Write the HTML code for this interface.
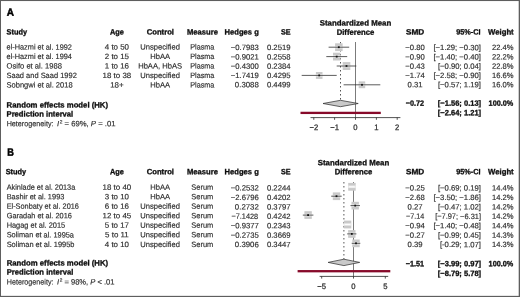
<!DOCTYPE html>
<html><head><meta charset="utf-8"><title>Forest plot</title>
<style>
html,body{margin:0;padding:0;background:#fff;}
body{width:520px;height:297px;overflow:hidden;position:relative;}
svg{position:absolute;left:0;top:0;display:block;}
text{font-family:"Liberation Sans",Arial,Helvetica,sans-serif;font-size:7.7px;text-rendering:geometricPrecision;stroke-width:0.16px;}
text[font-weight=bold]{stroke-width:0.3px;}
</style></head><body>
<svg width="520" height="297" viewBox="0 0 520 297">
<rect x="0" y="0" width="520" height="297" fill="#fff"/>
<g fill="#5e5e5e"><rect x="0" y="0" width="520" height="1.05"/><rect x="0" y="0" width="1" height="297"/><rect x="518.7" y="0" width="1.3" height="297"/><rect x="0" y="295.85" width="520" height="1.15"/></g>
<text x="6.85" y="15.70" transform="rotate(0.05 6.85 15.70)" font-weight="bold" textLength="7.2" lengthAdjust="spacingAndGlyphs" style="font-size:10.7px;stroke-width:0.5px" fill="#000" stroke="#000">A</text>
<text x="6.50" y="34.60" transform="rotate(0.05 6.50 34.60)" font-weight="bold" textLength="20.55" lengthAdjust="spacingAndGlyphs" fill="#0c0c0c" stroke="#0c0c0c">Study</text>
<text x="110.00" y="34.60" transform="rotate(0.05 110.00 34.60)" font-weight="bold" textLength="13.9" lengthAdjust="spacingAndGlyphs" fill="#0c0c0c" stroke="#0c0c0c">Age</text>
<text x="146.70" y="34.60" transform="rotate(0.05 146.70 34.60)" font-weight="bold" textLength="27.3" lengthAdjust="spacingAndGlyphs" fill="#0c0c0c" stroke="#0c0c0c">Control</text>
<text x="187.00" y="34.60" transform="rotate(0.05 187.00 34.60)" font-weight="bold" textLength="31.0" lengthAdjust="spacingAndGlyphs" fill="#0c0c0c" stroke="#0c0c0c">Measure</text>
<text x="224.60" y="34.60" transform="rotate(0.05 224.60 34.60)" font-weight="bold" textLength="34.2" lengthAdjust="spacingAndGlyphs" fill="#0c0c0c" stroke="#0c0c0c">Hedges g</text>
<text x="280.90" y="34.60" transform="rotate(0.05 280.90 34.60)" font-weight="bold" textLength="9.6" lengthAdjust="spacingAndGlyphs" fill="#0c0c0c" stroke="#0c0c0c">SE</text>
<text x="319.71" y="25.40" transform="rotate(0.05 319.71 25.40)" font-weight="bold" textLength="71.57" lengthAdjust="spacingAndGlyphs" fill="#0c0c0c" stroke="#0c0c0c">Standardized Mean</text>
<text x="336.67" y="34.85" transform="rotate(0.05 336.67 34.85)" font-weight="bold" textLength="37.66" lengthAdjust="spacingAndGlyphs" fill="#0c0c0c" stroke="#0c0c0c">Difference</text>
<text x="405.90" y="34.60" transform="rotate(0.05 405.90 34.60)" font-weight="bold" textLength="18.3" lengthAdjust="spacingAndGlyphs" fill="#0c0c0c" stroke="#0c0c0c">SMD</text>
<text x="456.20" y="34.60" transform="rotate(0.05 456.20 34.60)" font-weight="bold" textLength="24.3" lengthAdjust="spacingAndGlyphs" fill="#0c0c0c" stroke="#0c0c0c">95%-CI</text>
<text x="488.00" y="34.60" transform="rotate(0.05 488.00 34.60)" font-weight="bold" textLength="25.7" lengthAdjust="spacingAndGlyphs" fill="#0c0c0c" stroke="#0c0c0c">Weight</text>
<line x1="355.5" y1="42" x2="355.5" y2="117.6" stroke="#333" stroke-width="0.65"/>
<line x1="340.5" y1="42" x2="340.5" y2="101.5" stroke="#1c1c1c" stroke-width="0.75" stroke-dasharray="1.5 2.5"/>
<text x="6.55" y="49.60" transform="rotate(0.05 6.55 49.60)" textLength="65.35" lengthAdjust="spacingAndGlyphs" fill="#2c2c2c" stroke="#2c2c2c">el-Hazmi et al. 1992</text>
<text x="104.77" y="49.60" transform="rotate(0.05 104.77 49.60)" textLength="24.25" lengthAdjust="spacingAndGlyphs" fill="#2c2c2c" stroke="#2c2c2c">4 to 50</text>
<text x="140.29" y="49.60" transform="rotate(0.05 140.29 49.60)" textLength="39.63" lengthAdjust="spacingAndGlyphs" fill="#2c2c2c" stroke="#2c2c2c">Unspecified</text>
<text x="190.23" y="49.60" transform="rotate(0.05 190.23 49.60)" textLength="24.14" lengthAdjust="spacingAndGlyphs" fill="#2c2c2c" stroke="#2c2c2c">Plasma</text>
<text x="230.75" y="50.10" transform="rotate(0.05 230.75 50.10)" textLength="28.05" lengthAdjust="spacingAndGlyphs" fill="#2c2c2c" stroke="#2c2c2c">−0.7983</text>
<text x="266.95" y="50.10" transform="rotate(0.05 266.95 50.10)" textLength="23.55" lengthAdjust="spacingAndGlyphs" fill="#2c2c2c" stroke="#2c2c2c">0.2519</text>
<text x="405.36" y="50.10" transform="rotate(0.05 405.36 50.10)" textLength="19.48" lengthAdjust="spacingAndGlyphs" fill="#2c2c2c" stroke="#2c2c2c">−0.80</text>
<text x="433.48" y="50.10" transform="rotate(0.05 433.48 50.10)" textLength="47.52" lengthAdjust="spacingAndGlyphs" fill="#2c2c2c" stroke="#2c2c2c">[−1.29; −0.30]</text>
<text x="492.00" y="50.10" transform="rotate(0.05 492.00 50.10)" textLength="21.51" lengthAdjust="spacingAndGlyphs" fill="#2c2c2c" stroke="#2c2c2c">22.4%</text>
<rect x="335.1" y="43.3" width="7.5" height="7.8" fill="#c9c9c9"/>
<rect x="335.1" y="45.9" width="7.5" height="2.6" fill="#fff" opacity="0.6"/>
<line x1="328.6" y1="47.2" x2="349.2" y2="47.2" stroke="#262626" stroke-width="0.75"/>
<rect x="337.9" y="46.3" width="1.8" height="1.8" fill="#111"/>
<text x="6.55" y="59.05" transform="rotate(0.05 6.55 59.05)" textLength="65.35" lengthAdjust="spacingAndGlyphs" fill="#2c2c2c" stroke="#2c2c2c">el-Hazmi et al. 1994</text>
<text x="104.77" y="59.05" transform="rotate(0.05 104.77 59.05)" textLength="24.25" lengthAdjust="spacingAndGlyphs" fill="#2c2c2c" stroke="#2c2c2c">2 to 15</text>
<text x="150.19" y="59.05" transform="rotate(0.05 150.19 59.05)" textLength="19.81" lengthAdjust="spacingAndGlyphs" fill="#2c2c2c" stroke="#2c2c2c">HbAA</text>
<text x="190.23" y="59.05" transform="rotate(0.05 190.23 59.05)" textLength="24.14" lengthAdjust="spacingAndGlyphs" fill="#2c2c2c" stroke="#2c2c2c">Plasma</text>
<text x="230.75" y="59.40" transform="rotate(0.05 230.75 59.40)" textLength="28.05" lengthAdjust="spacingAndGlyphs" fill="#2c2c2c" stroke="#2c2c2c">−0.9021</text>
<text x="266.95" y="59.40" transform="rotate(0.05 266.95 59.40)" textLength="23.55" lengthAdjust="spacingAndGlyphs" fill="#2c2c2c" stroke="#2c2c2c">0.2558</text>
<text x="405.36" y="59.40" transform="rotate(0.05 405.36 59.40)" textLength="19.48" lengthAdjust="spacingAndGlyphs" fill="#2c2c2c" stroke="#2c2c2c">−0.90</text>
<text x="433.48" y="59.40" transform="rotate(0.05 433.48 59.40)" textLength="47.52" lengthAdjust="spacingAndGlyphs" fill="#2c2c2c" stroke="#2c2c2c">[−1.40; −0.40]</text>
<text x="492.00" y="59.40" transform="rotate(0.05 492.00 59.40)" textLength="21.51" lengthAdjust="spacingAndGlyphs" fill="#2c2c2c" stroke="#2c2c2c">22.2%</text>
<rect x="333.0" y="52.7" width="7.5" height="7.8" fill="#c9c9c9"/>
<rect x="333.0" y="55.3" width="7.5" height="2.6" fill="#fff" opacity="0.6"/>
<line x1="326.3" y1="56.6" x2="347.2" y2="56.6" stroke="#262626" stroke-width="0.75"/>
<rect x="335.8" y="55.7" width="1.8" height="1.8" fill="#111"/>
<text x="6.55" y="68.50" transform="rotate(0.05 6.55 68.50)" textLength="55.35" lengthAdjust="spacingAndGlyphs" fill="#2c2c2c" stroke="#2c2c2c">Osifo et al. 1988</text>
<text x="104.77" y="68.50" transform="rotate(0.05 104.77 68.50)" textLength="24.25" lengthAdjust="spacingAndGlyphs" fill="#2c2c2c" stroke="#2c2c2c">1 to 16</text>
<text x="138.18" y="68.50" transform="rotate(0.05 138.18 68.50)" textLength="43.84" lengthAdjust="spacingAndGlyphs" fill="#2c2c2c" stroke="#2c2c2c">HbAA, HbAS</text>
<text x="190.23" y="68.50" transform="rotate(0.05 190.23 68.50)" textLength="24.14" lengthAdjust="spacingAndGlyphs" fill="#2c2c2c" stroke="#2c2c2c">Plasma</text>
<text x="230.75" y="68.70" transform="rotate(0.05 230.75 68.70)" textLength="28.05" lengthAdjust="spacingAndGlyphs" fill="#2c2c2c" stroke="#2c2c2c">−0.4300</text>
<text x="266.95" y="68.70" transform="rotate(0.05 266.95 68.70)" textLength="23.55" lengthAdjust="spacingAndGlyphs" fill="#2c2c2c" stroke="#2c2c2c">0.2384</text>
<text x="405.36" y="68.70" transform="rotate(0.05 405.36 68.70)" textLength="19.48" lengthAdjust="spacingAndGlyphs" fill="#2c2c2c" stroke="#2c2c2c">−0.43</text>
<text x="437.97" y="68.70" transform="rotate(0.05 437.97 68.70)" textLength="43.03" lengthAdjust="spacingAndGlyphs" fill="#2c2c2c" stroke="#2c2c2c">[−0.90; 0.04]</text>
<text x="492.00" y="68.70" transform="rotate(0.05 492.00 68.70)" textLength="21.51" lengthAdjust="spacingAndGlyphs" fill="#2c2c2c" stroke="#2c2c2c">22.8%</text>
<rect x="342.7" y="62.1" width="7.6" height="7.9" fill="#c9c9c9"/>
<rect x="342.7" y="64.7" width="7.6" height="2.6" fill="#fff" opacity="0.6"/>
<line x1="336.7" y1="66.0" x2="356.3" y2="66.0" stroke="#262626" stroke-width="0.75"/>
<rect x="345.6" y="65.1" width="1.8" height="1.8" fill="#111"/>
<text x="6.55" y="77.95" transform="rotate(0.05 6.55 77.95)" textLength="70.25" lengthAdjust="spacingAndGlyphs" fill="#2c2c2c" stroke="#2c2c2c">Saad and Saad 1992</text>
<text x="102.57" y="77.95" transform="rotate(0.05 102.57 77.95)" textLength="28.66" lengthAdjust="spacingAndGlyphs" fill="#2c2c2c" stroke="#2c2c2c">18 to 38</text>
<text x="140.29" y="77.95" transform="rotate(0.05 140.29 77.95)" textLength="39.63" lengthAdjust="spacingAndGlyphs" fill="#2c2c2c" stroke="#2c2c2c">Unspecified</text>
<text x="190.23" y="77.95" transform="rotate(0.05 190.23 77.95)" textLength="24.14" lengthAdjust="spacingAndGlyphs" fill="#2c2c2c" stroke="#2c2c2c">Plasma</text>
<text x="230.75" y="78.00" transform="rotate(0.05 230.75 78.00)" textLength="28.05" lengthAdjust="spacingAndGlyphs" fill="#2c2c2c" stroke="#2c2c2c">−1.7419</text>
<text x="266.95" y="78.00" transform="rotate(0.05 266.95 78.00)" textLength="23.55" lengthAdjust="spacingAndGlyphs" fill="#2c2c2c" stroke="#2c2c2c">0.4295</text>
<text x="405.36" y="78.00" transform="rotate(0.05 405.36 78.00)" textLength="19.48" lengthAdjust="spacingAndGlyphs" fill="#2c2c2c" stroke="#2c2c2c">−1.74</text>
<text x="433.48" y="78.00" transform="rotate(0.05 433.48 78.00)" textLength="47.52" lengthAdjust="spacingAndGlyphs" fill="#2c2c2c" stroke="#2c2c2c">[−2.58; −0.90]</text>
<text x="492.00" y="78.00" transform="rotate(0.05 492.00 78.00)" textLength="21.51" lengthAdjust="spacingAndGlyphs" fill="#2c2c2c" stroke="#2c2c2c">16.6%</text>
<rect x="315.9" y="72.0" width="6.6" height="6.9" fill="#c9c9c9"/>
<rect x="315.9" y="74.1" width="6.6" height="2.6" fill="#fff" opacity="0.6"/>
<line x1="301.7" y1="75.4" x2="336.7" y2="75.4" stroke="#262626" stroke-width="0.75"/>
<rect x="318.3" y="74.5" width="1.8" height="1.8" fill="#111"/>
<text x="6.55" y="87.40" transform="rotate(0.05 6.55 87.40)" textLength="66.05" lengthAdjust="spacingAndGlyphs" fill="#2c2c2c" stroke="#2c2c2c">Sobngwi et al. 2018</text>
<text x="110.17" y="87.40" transform="rotate(0.05 110.17 87.40)" textLength="13.45" lengthAdjust="spacingAndGlyphs" fill="#2c2c2c" stroke="#2c2c2c">18+</text>
<text x="150.19" y="87.40" transform="rotate(0.05 150.19 87.40)" textLength="19.81" lengthAdjust="spacingAndGlyphs" fill="#2c2c2c" stroke="#2c2c2c">HbAA</text>
<text x="190.23" y="87.40" transform="rotate(0.05 190.23 87.40)" textLength="24.14" lengthAdjust="spacingAndGlyphs" fill="#2c2c2c" stroke="#2c2c2c">Plasma</text>
<text x="234.89" y="87.30" transform="rotate(0.05 234.89 87.30)" textLength="23.9" lengthAdjust="spacingAndGlyphs" fill="#2c2c2c" stroke="#2c2c2c">0.3088</text>
<text x="266.95" y="87.30" transform="rotate(0.05 266.95 87.30)" textLength="23.55" lengthAdjust="spacingAndGlyphs" fill="#2c2c2c" stroke="#2c2c2c">0.4499</text>
<text x="407.61" y="87.30" transform="rotate(0.05 407.61 87.30)" textLength="14.99" lengthAdjust="spacingAndGlyphs" fill="#2c2c2c" stroke="#2c2c2c">0.31</text>
<text x="437.97" y="87.30" transform="rotate(0.05 437.97 87.30)" textLength="43.03" lengthAdjust="spacingAndGlyphs" fill="#2c2c2c" stroke="#2c2c2c">[−0.57; 1.19]</text>
<text x="492.00" y="87.30" transform="rotate(0.05 492.00 87.30)" textLength="21.51" lengthAdjust="spacingAndGlyphs" fill="#2c2c2c" stroke="#2c2c2c">16.0%</text>
<rect x="358.7" y="81.4" width="6.5" height="6.8" fill="#c9c9c9"/>
<rect x="358.7" y="83.5" width="6.5" height="2.6" fill="#fff" opacity="0.6"/>
<line x1="343.6" y1="84.8" x2="380.3" y2="84.8" stroke="#262626" stroke-width="0.75"/>
<rect x="361.1" y="83.9" width="1.8" height="1.8" fill="#111"/>
<text x="6.55" y="107.40" transform="rotate(0.05 6.55 107.40)" font-weight="bold" textLength="101.5" lengthAdjust="spacingAndGlyphs" fill="#0c0c0c" stroke="#0c0c0c">Random effects model (HK)</text>
<text x="6.55" y="116.40" transform="rotate(0.05 6.55 116.40)" font-weight="bold" textLength="66.7" lengthAdjust="spacingAndGlyphs" fill="#0c0c0c" stroke="#0c0c0c">Prediction interval</text>
<text x="6.65" y="126.30" transform="rotate(0.05 6.65 126.30)" textLength="46.85" lengthAdjust="spacingAndGlyphs" fill="#2c2c2c" stroke="#2c2c2c">Heterogeneity:</text>
<text x="57.1" y="126.3" transform="rotate(0.05 57.1 126.3)" fill="#2c2c2c" stroke="#2c2c2c" textLength="58.4" lengthAdjust="spacingAndGlyphs"><tspan font-style="italic">I</tspan><tspan style="font-size:4.8px" dx="0.5" dy="-2.7">2</tspan><tspan dy="2.7"> = 69%, </tspan><tspan font-style="italic">P</tspan> = .01</text>
<text x="405.80" y="105.70" transform="rotate(0.05 405.80 105.70)" font-weight="bold" textLength="18.3" lengthAdjust="spacingAndGlyphs" fill="#0c0c0c" stroke="#0c0c0c">−0.72</text>
<text x="437.80" y="105.70" transform="rotate(0.05 437.80 105.70)" font-weight="bold" textLength="43.3" lengthAdjust="spacingAndGlyphs" fill="#0c0c0c" stroke="#0c0c0c">[−1.56; 0.13]</text>
<text x="488.60" y="105.70" transform="rotate(0.05 488.60 105.70)" font-weight="bold" textLength="24.7" lengthAdjust="spacingAndGlyphs" fill="#0c0c0c" stroke="#0c0c0c">100.0%</text>
<text x="437.80" y="115.20" transform="rotate(0.05 437.80 115.20)" font-weight="bold" textLength="43.3" lengthAdjust="spacingAndGlyphs" fill="#0c0c0c" stroke="#0c0c0c">[−2.64; 1.21]</text>
<polygon points="323.0,103.5 340.5,100.3 358.2,103.5 340.5,106.7" fill="#c9c9c9" stroke="#262626" stroke-width="0.7"/>
<rect x="300.5" y="111.75" width="80.3" height="2.3" fill="#870a2a"/>
<line x1="310.5" y1="117.6" x2="400.4" y2="117.6" stroke="#262626" stroke-width="0.8"/>
<line x1="313.8" y1="117.6" x2="313.8" y2="119.8" stroke="#262626" stroke-width="0.8"/>
<text x="309.43" y="130.10" transform="rotate(0.05 309.43 130.10)" textLength="8.74" lengthAdjust="spacingAndGlyphs" style="font-size:7.9px;stroke-width:0.25px" fill="#2c2c2c" stroke="#2c2c2c">−2</text>
<line x1="334.6" y1="117.6" x2="334.6" y2="119.8" stroke="#262626" stroke-width="0.8"/>
<text x="330.28" y="130.10" transform="rotate(0.05 330.28 130.10)" textLength="8.74" lengthAdjust="spacingAndGlyphs" style="font-size:7.9px;stroke-width:0.25px" fill="#2c2c2c" stroke="#2c2c2c">−1</text>
<line x1="355.5" y1="117.6" x2="355.5" y2="119.8" stroke="#262626" stroke-width="0.8"/>
<text x="353.37" y="130.10" transform="rotate(0.05 353.37 130.10)" textLength="4.26" lengthAdjust="spacingAndGlyphs" style="font-size:7.9px;stroke-width:0.25px" fill="#2c2c2c" stroke="#2c2c2c">0</text>
<line x1="376.4" y1="117.6" x2="376.4" y2="119.8" stroke="#262626" stroke-width="0.8"/>
<text x="374.22" y="130.10" transform="rotate(0.05 374.22 130.10)" textLength="4.26" lengthAdjust="spacingAndGlyphs" style="font-size:7.9px;stroke-width:0.25px" fill="#2c2c2c" stroke="#2c2c2c">1</text>
<line x1="397.2" y1="117.6" x2="397.2" y2="119.8" stroke="#262626" stroke-width="0.8"/>
<text x="395.07" y="130.10" transform="rotate(0.05 395.07 130.10)" textLength="4.26" lengthAdjust="spacingAndGlyphs" style="font-size:7.9px;stroke-width:0.25px" fill="#2c2c2c" stroke="#2c2c2c">2</text>
<text x="7.35" y="155.70" transform="rotate(0.05 7.35 155.70)" font-weight="bold" textLength="6.6" lengthAdjust="spacingAndGlyphs" style="font-size:10.7px;stroke-width:0.5px" fill="#000" stroke="#000">B</text>
<text x="5.70" y="174.30" transform="rotate(0.05 5.70 174.30)" font-weight="bold" textLength="20.55" lengthAdjust="spacingAndGlyphs" fill="#0c0c0c" stroke="#0c0c0c">Study</text>
<text x="110.00" y="174.30" transform="rotate(0.05 110.00 174.30)" font-weight="bold" textLength="13.9" lengthAdjust="spacingAndGlyphs" fill="#0c0c0c" stroke="#0c0c0c">Age</text>
<text x="146.70" y="174.30" transform="rotate(0.05 146.70 174.30)" font-weight="bold" textLength="27.3" lengthAdjust="spacingAndGlyphs" fill="#0c0c0c" stroke="#0c0c0c">Control</text>
<text x="187.00" y="174.30" transform="rotate(0.05 187.00 174.30)" font-weight="bold" textLength="31.0" lengthAdjust="spacingAndGlyphs" fill="#0c0c0c" stroke="#0c0c0c">Measure</text>
<text x="224.60" y="174.30" transform="rotate(0.05 224.60 174.30)" font-weight="bold" textLength="34.2" lengthAdjust="spacingAndGlyphs" fill="#0c0c0c" stroke="#0c0c0c">Hedges g</text>
<text x="280.90" y="174.30" transform="rotate(0.05 280.90 174.30)" font-weight="bold" textLength="9.6" lengthAdjust="spacingAndGlyphs" fill="#0c0c0c" stroke="#0c0c0c">SE</text>
<text x="317.71" y="165.30" transform="rotate(0.05 317.71 165.30)" font-weight="bold" textLength="71.57" lengthAdjust="spacingAndGlyphs" fill="#0c0c0c" stroke="#0c0c0c">Standardized Mean</text>
<text x="334.67" y="174.30" transform="rotate(0.05 334.67 174.30)" font-weight="bold" textLength="37.66" lengthAdjust="spacingAndGlyphs" fill="#0c0c0c" stroke="#0c0c0c">Difference</text>
<text x="405.90" y="174.30" transform="rotate(0.05 405.90 174.30)" font-weight="bold" textLength="18.3" lengthAdjust="spacingAndGlyphs" fill="#0c0c0c" stroke="#0c0c0c">SMD</text>
<text x="456.20" y="174.30" transform="rotate(0.05 456.20 174.30)" font-weight="bold" textLength="24.3" lengthAdjust="spacingAndGlyphs" fill="#0c0c0c" stroke="#0c0c0c">95%-CI</text>
<text x="488.00" y="174.30" transform="rotate(0.05 488.00 174.30)" font-weight="bold" textLength="25.7" lengthAdjust="spacingAndGlyphs" fill="#0c0c0c" stroke="#0c0c0c">Weight</text>
<line x1="353.5" y1="182" x2="353.5" y2="276.4" stroke="#333" stroke-width="0.65"/>
<line x1="343.9" y1="182" x2="343.9" y2="260.4" stroke="#1c1c1c" stroke-width="0.75" stroke-dasharray="1.5 2.5"/>
<text x="6.65" y="189.70" transform="rotate(0.05 6.65 189.70)" textLength="68.65" lengthAdjust="spacingAndGlyphs" fill="#2c2c2c" stroke="#2c2c2c">Akinlade et al. 2013a</text>
<text x="102.57" y="189.70" transform="rotate(0.05 102.57 189.70)" textLength="28.66" lengthAdjust="spacingAndGlyphs" fill="#2c2c2c" stroke="#2c2c2c">18 to 40</text>
<text x="150.19" y="189.70" transform="rotate(0.05 150.19 189.70)" textLength="19.81" lengthAdjust="spacingAndGlyphs" fill="#2c2c2c" stroke="#2c2c2c">HbAA</text>
<text x="191.30" y="189.70" transform="rotate(0.05 191.30 189.70)" textLength="22.0" lengthAdjust="spacingAndGlyphs" fill="#2c2c2c" stroke="#2c2c2c">Serum</text>
<text x="230.75" y="190.60" transform="rotate(0.05 230.75 190.60)" textLength="28.05" lengthAdjust="spacingAndGlyphs" fill="#2c2c2c" stroke="#2c2c2c">−0.2532</text>
<text x="266.95" y="190.60" transform="rotate(0.05 266.95 190.60)" textLength="23.55" lengthAdjust="spacingAndGlyphs" fill="#2c2c2c" stroke="#2c2c2c">0.2244</text>
<text x="405.36" y="190.60" transform="rotate(0.05 405.36 190.60)" textLength="19.48" lengthAdjust="spacingAndGlyphs" fill="#2c2c2c" stroke="#2c2c2c">−0.25</text>
<text x="437.97" y="190.60" transform="rotate(0.05 437.97 190.60)" textLength="43.03" lengthAdjust="spacingAndGlyphs" fill="#2c2c2c" stroke="#2c2c2c">[−0.69; 0.19]</text>
<text x="492.00" y="190.60" transform="rotate(0.05 492.00 190.60)" textLength="21.51" lengthAdjust="spacingAndGlyphs" fill="#2c2c2c" stroke="#2c2c2c">14.4%</text>
<rect x="348.2" y="182.9" width="7.5" height="7.8" fill="#c9c9c9"/>
<rect x="348.2" y="185.5" width="7.5" height="2.6" fill="#fff" opacity="0.6"/>
<line x1="349.1" y1="186.8" x2="354.7" y2="186.8" stroke="#fff" stroke-width="0.9"/>
<text x="6.65" y="199.23" transform="rotate(0.05 6.65 199.23)" textLength="57.75" lengthAdjust="spacingAndGlyphs" fill="#2c2c2c" stroke="#2c2c2c">Bashir et al. 1993</text>
<text x="104.77" y="199.23" transform="rotate(0.05 104.77 199.23)" textLength="24.25" lengthAdjust="spacingAndGlyphs" fill="#2c2c2c" stroke="#2c2c2c">3 to 10</text>
<text x="150.19" y="199.23" transform="rotate(0.05 150.19 199.23)" textLength="19.81" lengthAdjust="spacingAndGlyphs" fill="#2c2c2c" stroke="#2c2c2c">HbAA</text>
<text x="191.30" y="199.23" transform="rotate(0.05 191.30 199.23)" textLength="22.0" lengthAdjust="spacingAndGlyphs" fill="#2c2c2c" stroke="#2c2c2c">Serum</text>
<text x="230.75" y="200.02" transform="rotate(0.05 230.75 200.02)" textLength="28.05" lengthAdjust="spacingAndGlyphs" fill="#2c2c2c" stroke="#2c2c2c">−2.6796</text>
<text x="266.95" y="200.02" transform="rotate(0.05 266.95 200.02)" textLength="23.55" lengthAdjust="spacingAndGlyphs" fill="#2c2c2c" stroke="#2c2c2c">0.4202</text>
<text x="405.36" y="200.02" transform="rotate(0.05 405.36 200.02)" textLength="19.48" lengthAdjust="spacingAndGlyphs" fill="#2c2c2c" stroke="#2c2c2c">−2.68</text>
<text x="433.48" y="200.02" transform="rotate(0.05 433.48 200.02)" textLength="47.52" lengthAdjust="spacingAndGlyphs" fill="#2c2c2c" stroke="#2c2c2c">[−3.50; −1.86]</text>
<text x="492.00" y="200.02" transform="rotate(0.05 492.00 200.02)" textLength="21.51" lengthAdjust="spacingAndGlyphs" fill="#2c2c2c" stroke="#2c2c2c">14.2%</text>
<rect x="332.8" y="192.4" width="7.4" height="7.7" fill="#c9c9c9"/>
<rect x="332.8" y="194.9" width="7.4" height="2.6" fill="#fff" opacity="0.6"/>
<line x1="331.2" y1="196.2" x2="341.7" y2="196.2" stroke="#262626" stroke-width="0.75"/>
<rect x="335.6" y="195.3" width="1.8" height="1.8" fill="#111"/>
<text x="6.65" y="208.76" transform="rotate(0.05 6.65 208.76)" textLength="72.25" lengthAdjust="spacingAndGlyphs" fill="#2c2c2c" stroke="#2c2c2c">El-Sonbaty et al. 2016</text>
<text x="104.77" y="208.76" transform="rotate(0.05 104.77 208.76)" textLength="24.25" lengthAdjust="spacingAndGlyphs" fill="#2c2c2c" stroke="#2c2c2c">6 to 16</text>
<text x="140.29" y="208.76" transform="rotate(0.05 140.29 208.76)" textLength="39.63" lengthAdjust="spacingAndGlyphs" fill="#2c2c2c" stroke="#2c2c2c">Unspecified</text>
<text x="191.30" y="208.76" transform="rotate(0.05 191.30 208.76)" textLength="22.0" lengthAdjust="spacingAndGlyphs" fill="#2c2c2c" stroke="#2c2c2c">Serum</text>
<text x="234.89" y="209.44" transform="rotate(0.05 234.89 209.44)" textLength="23.9" lengthAdjust="spacingAndGlyphs" fill="#2c2c2c" stroke="#2c2c2c">0.2732</text>
<text x="266.95" y="209.44" transform="rotate(0.05 266.95 209.44)" textLength="23.55" lengthAdjust="spacingAndGlyphs" fill="#2c2c2c" stroke="#2c2c2c">0.3797</text>
<text x="407.61" y="209.44" transform="rotate(0.05 407.61 209.44)" textLength="14.99" lengthAdjust="spacingAndGlyphs" fill="#2c2c2c" stroke="#2c2c2c">0.27</text>
<text x="437.97" y="209.44" transform="rotate(0.05 437.97 209.44)" textLength="43.03" lengthAdjust="spacingAndGlyphs" fill="#2c2c2c" stroke="#2c2c2c">[−0.47; 1.02]</text>
<text x="492.00" y="209.44" transform="rotate(0.05 492.00 209.44)" textLength="21.51" lengthAdjust="spacingAndGlyphs" fill="#2c2c2c" stroke="#2c2c2c">14.2%</text>
<rect x="351.5" y="201.8" width="7.4" height="7.7" fill="#c9c9c9"/>
<rect x="351.5" y="204.3" width="7.4" height="2.6" fill="#fff" opacity="0.6"/>
<line x1="350.5" y1="205.6" x2="360.0" y2="205.6" stroke="#262626" stroke-width="0.75"/>
<rect x="354.3" y="204.7" width="1.8" height="1.8" fill="#111"/>
<text x="6.65" y="218.29" transform="rotate(0.05 6.65 218.29)" textLength="65.25" lengthAdjust="spacingAndGlyphs" fill="#2c2c2c" stroke="#2c2c2c">Garadah et al. 2016</text>
<text x="102.57" y="218.29" transform="rotate(0.05 102.57 218.29)" textLength="28.66" lengthAdjust="spacingAndGlyphs" fill="#2c2c2c" stroke="#2c2c2c">12 to 45</text>
<text x="140.29" y="218.29" transform="rotate(0.05 140.29 218.29)" textLength="39.63" lengthAdjust="spacingAndGlyphs" fill="#2c2c2c" stroke="#2c2c2c">Unspecified</text>
<text x="191.30" y="218.29" transform="rotate(0.05 191.30 218.29)" textLength="22.0" lengthAdjust="spacingAndGlyphs" fill="#2c2c2c" stroke="#2c2c2c">Serum</text>
<text x="231.41" y="218.86" transform="rotate(0.05 231.41 218.86)" textLength="26.79" lengthAdjust="spacingAndGlyphs" fill="#2c2c2c" stroke="#2c2c2c">−7.1428</text>
<text x="266.95" y="218.86" transform="rotate(0.05 266.95 218.86)" textLength="23.55" lengthAdjust="spacingAndGlyphs" fill="#2c2c2c" stroke="#2c2c2c">0.4242</text>
<text x="406.04" y="218.86" transform="rotate(0.05 406.04 218.86)" textLength="18.12" lengthAdjust="spacingAndGlyphs" fill="#2c2c2c" stroke="#2c2c2c">−7.14</text>
<text x="435.14" y="218.86" transform="rotate(0.05 435.14 218.86)" textLength="45.86" lengthAdjust="spacingAndGlyphs" fill="#2c2c2c" stroke="#2c2c2c">[−7.97; −6.31]</text>
<text x="492.00" y="218.86" transform="rotate(0.05 492.00 218.86)" textLength="21.51" lengthAdjust="spacingAndGlyphs" fill="#2c2c2c" stroke="#2c2c2c">14.2%</text>
<rect x="304.4" y="211.2" width="7.4" height="7.7" fill="#c9c9c9"/>
<rect x="304.4" y="213.8" width="7.4" height="2.6" fill="#fff" opacity="0.6"/>
<line x1="302.8" y1="215.1" x2="313.4" y2="215.1" stroke="#262626" stroke-width="0.75"/>
<rect x="307.2" y="214.2" width="1.8" height="1.8" fill="#111"/>
<text x="6.65" y="227.82" transform="rotate(0.05 6.65 227.82)" textLength="58.55" lengthAdjust="spacingAndGlyphs" fill="#2c2c2c" stroke="#2c2c2c">Hagag et al. 2015</text>
<text x="104.77" y="227.82" transform="rotate(0.05 104.77 227.82)" textLength="24.25" lengthAdjust="spacingAndGlyphs" fill="#2c2c2c" stroke="#2c2c2c">5 to 17</text>
<text x="140.29" y="227.82" transform="rotate(0.05 140.29 227.82)" textLength="39.63" lengthAdjust="spacingAndGlyphs" fill="#2c2c2c" stroke="#2c2c2c">Unspecified</text>
<text x="191.30" y="227.82" transform="rotate(0.05 191.30 227.82)" textLength="22.0" lengthAdjust="spacingAndGlyphs" fill="#2c2c2c" stroke="#2c2c2c">Serum</text>
<text x="230.75" y="228.28" transform="rotate(0.05 230.75 228.28)" textLength="28.05" lengthAdjust="spacingAndGlyphs" fill="#2c2c2c" stroke="#2c2c2c">−0.9377</text>
<text x="266.95" y="228.28" transform="rotate(0.05 266.95 228.28)" textLength="23.55" lengthAdjust="spacingAndGlyphs" fill="#2c2c2c" stroke="#2c2c2c">0.2343</text>
<text x="405.36" y="228.28" transform="rotate(0.05 405.36 228.28)" textLength="19.48" lengthAdjust="spacingAndGlyphs" fill="#2c2c2c" stroke="#2c2c2c">−0.94</text>
<text x="433.48" y="228.28" transform="rotate(0.05 433.48 228.28)" textLength="47.52" lengthAdjust="spacingAndGlyphs" fill="#2c2c2c" stroke="#2c2c2c">[−1.40; −0.48]</text>
<text x="492.00" y="228.28" transform="rotate(0.05 492.00 228.28)" textLength="21.51" lengthAdjust="spacingAndGlyphs" fill="#2c2c2c" stroke="#2c2c2c">14.4%</text>
<rect x="343.8" y="220.6" width="7.5" height="7.8" fill="#c9c9c9"/>
<rect x="343.8" y="223.2" width="7.5" height="2.6" fill="#fff" opacity="0.6"/>
<line x1="344.6" y1="224.5" x2="350.4" y2="224.5" stroke="#fff" stroke-width="0.9"/>
<text x="6.65" y="237.35" transform="rotate(0.05 6.65 237.35)" textLength="67.34" lengthAdjust="spacingAndGlyphs" fill="#2c2c2c" stroke="#2c2c2c">Soliman et al. 1995a</text>
<text x="105.07" y="237.35" transform="rotate(0.05 105.07 237.35)" textLength="23.67" lengthAdjust="spacingAndGlyphs" fill="#2c2c2c" stroke="#2c2c2c">5 to 11</text>
<text x="140.29" y="237.35" transform="rotate(0.05 140.29 237.35)" textLength="39.63" lengthAdjust="spacingAndGlyphs" fill="#2c2c2c" stroke="#2c2c2c">Unspecified</text>
<text x="191.30" y="237.35" transform="rotate(0.05 191.30 237.35)" textLength="22.0" lengthAdjust="spacingAndGlyphs" fill="#2c2c2c" stroke="#2c2c2c">Serum</text>
<text x="230.75" y="237.70" transform="rotate(0.05 230.75 237.70)" textLength="28.05" lengthAdjust="spacingAndGlyphs" fill="#2c2c2c" stroke="#2c2c2c">−0.2735</text>
<text x="266.95" y="237.70" transform="rotate(0.05 266.95 237.70)" textLength="23.55" lengthAdjust="spacingAndGlyphs" fill="#2c2c2c" stroke="#2c2c2c">0.3669</text>
<text x="405.36" y="237.70" transform="rotate(0.05 405.36 237.70)" textLength="19.48" lengthAdjust="spacingAndGlyphs" fill="#2c2c2c" stroke="#2c2c2c">−0.27</text>
<text x="437.97" y="237.70" transform="rotate(0.05 437.97 237.70)" textLength="43.03" lengthAdjust="spacingAndGlyphs" fill="#2c2c2c" stroke="#2c2c2c">[−0.99; 0.45]</text>
<text x="492.00" y="237.70" transform="rotate(0.05 492.00 237.70)" textLength="21.51" lengthAdjust="spacingAndGlyphs" fill="#2c2c2c" stroke="#2c2c2c">14.3%</text>
<rect x="348.1" y="230.1" width="7.4" height="7.7" fill="#c9c9c9"/>
<rect x="348.1" y="232.6" width="7.4" height="2.6" fill="#fff" opacity="0.6"/>
<line x1="347.2" y1="233.9" x2="356.4" y2="233.9" stroke="#262626" stroke-width="0.75"/>
<rect x="350.9" y="233.0" width="1.8" height="1.8" fill="#111"/>
<text x="6.65" y="246.88" transform="rotate(0.05 6.65 246.88)" textLength="67.85" lengthAdjust="spacingAndGlyphs" fill="#2c2c2c" stroke="#2c2c2c">Soliman et al. 1995b</text>
<text x="104.77" y="246.88" transform="rotate(0.05 104.77 246.88)" textLength="24.25" lengthAdjust="spacingAndGlyphs" fill="#2c2c2c" stroke="#2c2c2c">4 to 10</text>
<text x="140.29" y="246.88" transform="rotate(0.05 140.29 246.88)" textLength="39.63" lengthAdjust="spacingAndGlyphs" fill="#2c2c2c" stroke="#2c2c2c">Unspecified</text>
<text x="191.30" y="246.88" transform="rotate(0.05 191.30 246.88)" textLength="22.0" lengthAdjust="spacingAndGlyphs" fill="#2c2c2c" stroke="#2c2c2c">Serum</text>
<text x="234.89" y="247.12" transform="rotate(0.05 234.89 247.12)" textLength="23.9" lengthAdjust="spacingAndGlyphs" fill="#2c2c2c" stroke="#2c2c2c">0.3906</text>
<text x="266.95" y="247.12" transform="rotate(0.05 266.95 247.12)" textLength="23.55" lengthAdjust="spacingAndGlyphs" fill="#2c2c2c" stroke="#2c2c2c">0.3447</text>
<text x="407.61" y="247.12" transform="rotate(0.05 407.61 247.12)" textLength="14.99" lengthAdjust="spacingAndGlyphs" fill="#2c2c2c" stroke="#2c2c2c">0.39</text>
<text x="439.91" y="247.12" transform="rotate(0.05 439.91 247.12)" textLength="41.09" lengthAdjust="spacingAndGlyphs" fill="#2c2c2c" stroke="#2c2c2c">[-0.29; 1.07]</text>
<text x="492.00" y="247.12" transform="rotate(0.05 492.00 247.12)" textLength="21.51" lengthAdjust="spacingAndGlyphs" fill="#2c2c2c" stroke="#2c2c2c">14.3%</text>
<rect x="352.3" y="239.5" width="7.4" height="7.7" fill="#c9c9c9"/>
<rect x="352.3" y="242.0" width="7.4" height="2.6" fill="#fff" opacity="0.6"/>
<line x1="351.7" y1="243.3" x2="360.3" y2="243.3" stroke="#262626" stroke-width="0.75"/>
<rect x="355.1" y="242.4" width="1.8" height="1.8" fill="#111"/>
<text x="6.65" y="265.50" transform="rotate(0.05 6.65 265.50)" font-weight="bold" textLength="101.5" lengthAdjust="spacingAndGlyphs" fill="#0c0c0c" stroke="#0c0c0c">Random effects model (HK)</text>
<text x="6.65" y="274.40" transform="rotate(0.05 6.65 274.40)" font-weight="bold" textLength="66.7" lengthAdjust="spacingAndGlyphs" fill="#0c0c0c" stroke="#0c0c0c">Prediction interval</text>
<text x="6.75" y="284.40" transform="rotate(0.05 6.75 284.40)" textLength="46.75" lengthAdjust="spacingAndGlyphs" fill="#2c2c2c" stroke="#2c2c2c">Heterogeneity:</text>
<text x="57.1" y="284.4" transform="rotate(0.05 57.1 284.4)" fill="#2c2c2c" stroke="#2c2c2c" textLength="57.4" lengthAdjust="spacingAndGlyphs"><tspan font-style="italic">I</tspan><tspan style="font-size:4.8px" dx="0.5" dy="-2.7">2</tspan><tspan dy="2.7"> = 98%, </tspan><tspan font-style="italic">P</tspan> &lt; .01</text>
<text x="405.80" y="266.20" transform="rotate(0.05 405.80 266.20)" font-weight="bold" textLength="18.3" lengthAdjust="spacingAndGlyphs" fill="#0c0c0c" stroke="#0c0c0c">−1.51</text>
<text x="437.80" y="266.20" transform="rotate(0.05 437.80 266.20)" font-weight="bold" textLength="43.3" lengthAdjust="spacingAndGlyphs" fill="#0c0c0c" stroke="#0c0c0c">[−3.99; 0.97]</text>
<text x="488.60" y="266.20" transform="rotate(0.05 488.60 266.20)" font-weight="bold" textLength="24.7" lengthAdjust="spacingAndGlyphs" fill="#0c0c0c" stroke="#0c0c0c">100.0%</text>
<text x="437.80" y="275.90" transform="rotate(0.05 437.80 275.90)" font-weight="bold" textLength="43.3" lengthAdjust="spacingAndGlyphs" fill="#0c0c0c" stroke="#0c0c0c">[−8.79; 5.78]</text>
<polygon points="328.1,262.4 343.9,259.2 359.7,262.4 343.9,265.6" fill="#c9c9c9" stroke="#262626" stroke-width="0.7"/>
<rect x="297.6" y="270.05" width="92.7" height="2.3" fill="#870a2a"/>
<line x1="319.6" y1="276.4" x2="388.2" y2="276.4" stroke="#262626" stroke-width="0.8"/>
<line x1="321.7" y1="276.4" x2="321.7" y2="278.59999999999997" stroke="#262626" stroke-width="0.8"/>
<text x="317.33" y="289.00" transform="rotate(0.05 317.33 289.00)" textLength="8.74" lengthAdjust="spacingAndGlyphs" style="font-size:7.9px;stroke-width:0.25px" fill="#2c2c2c" stroke="#2c2c2c">−5</text>
<line x1="353.5" y1="276.4" x2="353.5" y2="278.59999999999997" stroke="#262626" stroke-width="0.8"/>
<text x="351.37" y="289.00" transform="rotate(0.05 351.37 289.00)" textLength="4.26" lengthAdjust="spacingAndGlyphs" style="font-size:7.9px;stroke-width:0.25px" fill="#2c2c2c" stroke="#2c2c2c">0</text>
<line x1="385.3" y1="276.4" x2="385.3" y2="278.59999999999997" stroke="#262626" stroke-width="0.8"/>
<text x="383.17" y="289.00" transform="rotate(0.05 383.17 289.00)" textLength="4.26" lengthAdjust="spacingAndGlyphs" style="font-size:7.9px;stroke-width:0.25px" fill="#2c2c2c" stroke="#2c2c2c">5</text>
</svg>
</body></html>
